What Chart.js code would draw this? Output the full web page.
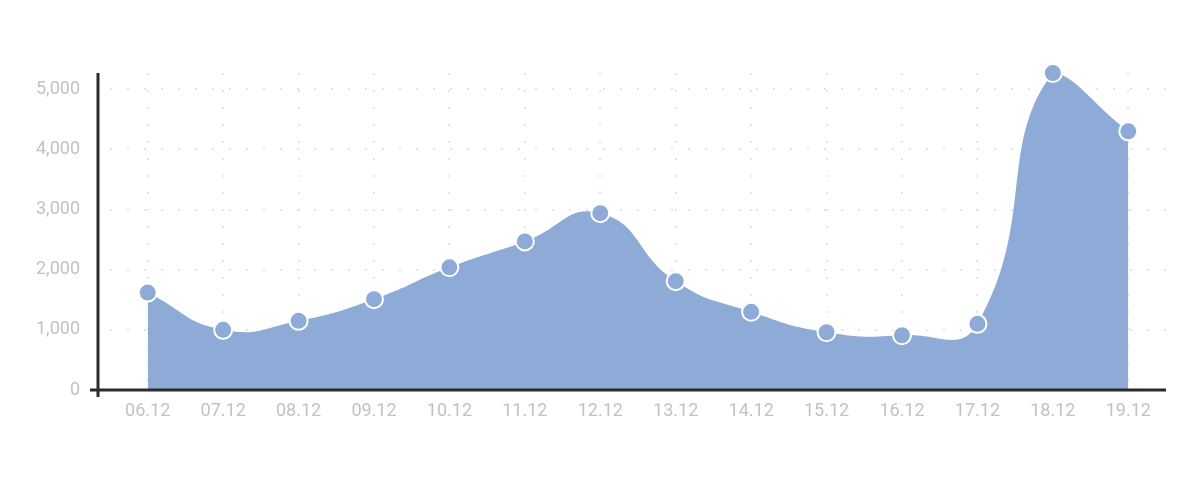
<!DOCTYPE html>
<html>
<head>
<meta charset="utf-8">
<script src="https://cdn.jsdelivr.net/npm/chart.js@4.4.1/dist/chart.umd.min.js"></script>
<style>
  html, body { margin: 0; padding: 0; background: #fff; }
  #wrap { width: 1200px; height: 493px; }
</style>
</head>
<body>
<div id="wrap"><canvas id="chart" width="1200" height="493"></canvas></div>
<script>
// data
const labels = ['06.12', '07.12', '08.12', '09.12', '10.12', '11.12', '12.12',
                '13.12', '14.12', '15.12', '16.12', '17.12', '18.12', '19.12'];
const values = [1620, 1000, 1150, 1510, 2040, 2470, 2940, 1810, 1300, 960, 910, 1100, 5270, 4300];
const yTicks = [0, 1000, 2000, 3000, 4000, 5000];

const blue = '#8eaad6';
const axisColor = '#2b2b2b';
const dotColor = '#e4e4e4';

// draws the dark axis lines a bit outside the plot area
const axisLines = {
    id: 'axisLines',
    afterDatasetsDraw(chart) {
        const ctx = chart.ctx;
        const a = chart.chartArea;
        ctx.save();
        ctx.strokeStyle = axisColor;
        ctx.lineWidth = 3;
        ctx.beginPath();
        ctx.moveTo(a.left - 20, a.bottom);
        ctx.lineTo(a.right, a.bottom);
        ctx.moveTo(a.left - 12, a.top);
        ctx.lineTo(a.left - 12, a.bottom + 7);
        ctx.stroke();
        ctx.restore();
    }
};

new Chart(document.getElementById('chart'), {
    type: 'line',
    data: {
        labels: labels,
        datasets: [{
            data: values,
            fill: 'origin',
            backgroundColor: blue,
            borderColor: blue,
            borderWidth: 0,
            tension: 0.5,
            pointRadius: 9,
            pointHoverRadius: 9,
            pointBackgroundColor: blue,
            pointBorderColor: '#ffffff',
            pointBorderWidth: 2,
            clip: false
        }]
    },
    options: {
        responsive: false,
        animation: false,
        layout: { padding: { left: 0, right: 34, top: 73, bottom: 60 } },
        plugins: { legend: { display: false }, tooltip: { enabled: false } },
        scales: {
            x: {
                offset: true,
                afterFit: s => { s.height = 43; },
                grid: {
                    offset: false,
                    drawTicks: false,
                    color: dotColor,
                    lineWidth: 2
                },
                border: { display: false, dash: [2, 15] },
                ticks: {
                    padding: 11,
                    color: '#c2c2c2',
                    font: { family: 'Roboto', size: 18 }
                }
            },
            y: {
                min: 0,
                max: 5270,
                afterFit: s => { s.width = 110; },
                afterBuildTicks: s => { s.ticks = yTicks.map(v => ({ value: v })); },
                grid: {
                    drawTicks: false,
                    color: dotColor,
                    lineWidth: 2
                },
                border: { display: false, dash: [2, 15] },
                ticks: {
                    padding: 30,
                    color: '#c2c2c2',
                    font: { family: 'Roboto', size: 18 },
                    callback: v => v.toLocaleString('en-US')
                }
            }
        }
    },
    plugins: [axisLines]
});
</script>
</body>
</html>
